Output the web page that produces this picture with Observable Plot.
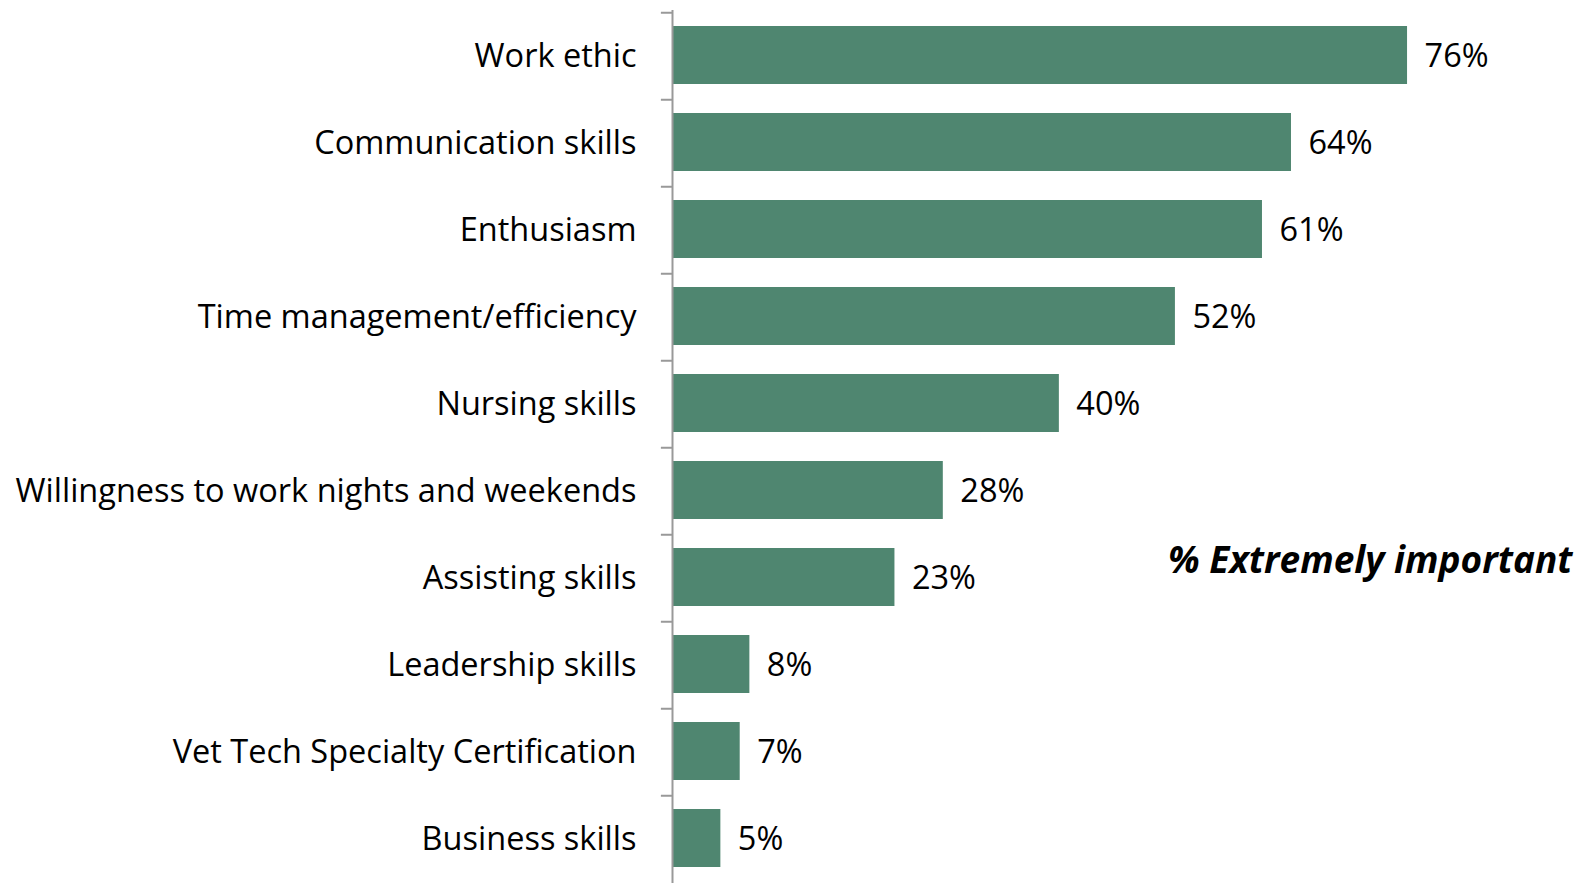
<!DOCTYPE html>
<html><head><meta charset="utf-8">
<script src="https://cdn.jsdelivr.net/npm/d3@7"></script>
<script src="https://cdn.jsdelivr.net/npm/@observablehq/plot@0.6"></script>
<style>body{margin:0;background:#fff;overflow:hidden;}</style>
</head><body><div id="chart"></div>
<script>
const categories = [
  "Work ethic",
  "Communication skills",
  "Enthusiasm",
  "Time management/efficiency",
  "Nursing skills",
  "Willingness to work nights and weekends",
  "Assisting skills",
  "Leadership skills",
  "Vet Tech Specialty Certification",
  "Business skills"
];
const values = [76, 64, 61, 52, 40, 28, 23, 8, 7, 5];
const valueLabels = values.map(v => v + "%");
const annotation = "% Extremely important";

const data = categories.map((c, i) => ({category: c, value: values[i], label: valueLabels[i]}));

const W = 1585, H = 883, mt = 10, mb = -2, ml = 672;
const step = (H - mt - mb) / categories.length;
const font = "'Open Sans', Lato, sans-serif";

const chart = Plot.plot({
  width: W, height: H,
  marginTop: mt, marginBottom: mb, marginLeft: ml, marginRight: 0,
  style: {fontFamily: font, fontSize: "32.5px", color: "#000", background: "#fff", overflow: "visible"},
  x: {domain: [0, 94.4], axis: null},
  y: {domain: categories, paddingInner: 0.33, paddingOuter: 0.165, axis: null},
  marks: [
    Plot.barX(data, {x: "value", y: "category", fill: "#4f8670", dy: -1}),
    Plot.text(data, {x: "value", y: "category", text: "label", textAnchor: "start", dx: 17, fontSize: 32.5, fill: "#000"}),
    Plot.axisY({tickSize: 0, tickPadding: 36, fontSize: 32.5, fill: "#000", label: null}),
    Plot.ruleY(categories, {y: d => d, x1: -1.15, x2: 0, dy: -step / 2, stroke: "#999", strokeWidth: 2}),
    Plot.ruleX([0], {stroke: "#999", strokeWidth: 2}),
    Plot.text([annotation], {text: d => d, y: () => categories[6], frameAnchor: "right", textAnchor: "end", dx: -13, dy: -17,
      fontWeight: "bold", fontStyle: "italic", fontSize: 37, fill: "#000"})
  ]
});
document.getElementById("chart").append(chart);
</script>
</body></html>
